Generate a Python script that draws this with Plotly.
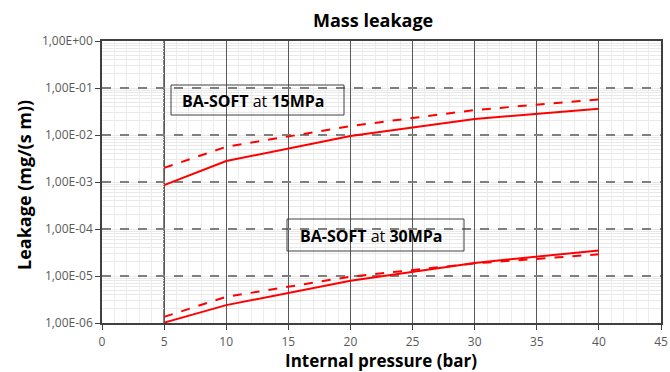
import plotly.graph_objects as go

pressure = [5, 10, 20, 30, 40]
soft15_solid = [8.6e-4, 2.8e-3, 9.5e-3, 2.2e-2, 3.6e-2]
soft15_dash = [2.0e-3, 5.6e-3, 1.55e-2, 3.4e-2, 5.7e-2]
soft30_solid = [1.02e-6, 2.4e-6, 7.9e-6, 1.9e-5, 3.5e-5]
soft30_dash = [1.35e-6, 3.6e-6, 9.7e-6, 1.85e-5, 2.9e-5]

y_tickvals = [1e-6, 1e-5, 1e-4, 1e-3, 1e-2, 1e-1, 1e0]
y_ticktext = ["1,00E-06", "1,00E-05", "1,00E-04", "1,00E-03", "1,00E-02", "1,00E-01", "1,00E+00"]
x_tickvals = [0, 5, 10, 15, 20, 25, 30, 35, 40, 45]

FONT = "Open Sans"
W, H = 670, 372
L, R, T, B = 102, 9, 41, 49
pw, ph = W - L - R, H - T - B

fig = go.Figure()
for ys, dash in [(soft15_solid, "solid"), (soft15_dash, "dash"),
                 (soft30_solid, "solid"), (soft30_dash, "dash")]:
    fig.add_trace(go.Scatter(x=pressure, y=ys, mode="lines", hoverinfo="skip",
                             line=dict(color="#ff0000", width=2, dash=dash)))

fig.update_layout(
    width=W, height=H,
    margin=dict(l=L, r=R, t=T, b=B, autoexpand=False),
    paper_bgcolor="white", plot_bgcolor="white",
    showlegend=False,
    font=dict(family=FONT, color="#595959"),
)
fig.update_xaxes(
    range=[0, 45], tickvals=x_tickvals, ticks="outside", ticklen=5, tickcolor="#404040",
    ticklabelstandoff=2,
    showline=True, linecolor="#404040", linewidth=1.5, mirror=True,
    showgrid=True, gridcolor="#595959", gridwidth=1,
    minor=dict(dtick=1, showgrid=True, gridcolor="#ececec", ticks=""),
    tickfont=dict(size=12, color="#595959"),
    automargin=False, zeroline=False,
)
fig.update_yaxes(
    type="log", range=[-6, 0], tickvals=y_tickvals, ticktext=y_ticktext,
    ticks="outside", ticklen=5, tickcolor="#404040",
    showline=True, linecolor="#404040", linewidth=1.5, mirror=True,
    showgrid=True, gridcolor="#7f7f7f", gridwidth=1.5, griddash="dash",
    minor=dict(dtick="D1", showgrid=True, gridcolor="#e9e9e9", griddash="solid", gridwidth=1, ticks=""),
    tickfont=dict(size=12, color="#595959"),
    automargin=False, zeroline=False,
)
# darker line at x=5
fig.add_shape(type="line", xref="x", yref="paper", x0=5, x1=5, y0=0, y1=1,
              line=dict(color="black", width=1.2), layer="below")

def px(x):
    return (x - L) / pw

def py(y):
    return 1 - (y - T) / ph

# title and axis titles
fig.add_annotation(text="<b>Mass leakage</b>", xref="paper", yref="paper", x=px(373), y=py(20),
                   xanchor="center", yanchor="middle", showarrow=False,
                   font=dict(family=FONT, size=18, color="black"))
fig.add_annotation(text="<b>Internal pressure (bar)</b>", xref="paper", yref="paper", x=px(381), y=py(360),
                   xanchor="center", yanchor="middle", showarrow=False,
                   font=dict(family=FONT, size=17, color="black"))
fig.add_annotation(text="<b>Leakage (mg/(s m))</b>", xref="paper", yref="paper", x=px(24), y=py(185),
                   xanchor="center", yanchor="middle", showarrow=False, textangle=-90,
                   font=dict(family=FONT, size=18, color="black"))

# label boxes: (text, box x0, x1, y0, y1, text x, text y) in pixels
for text, bx0, bx1, by0, by1, tx, ty in [
        ("<b>BA-SOFT</b> at <b>15MPa</b>", 171, 344, 85, 115, 180, 101),
        ("<b>BA-SOFT</b> at <b>30MPa</b>", 287, 464, 219, 251, 298, 236)]:
    fig.add_shape(type="rect", xref="paper", yref="paper",
                  x0=px(bx0), x1=px(bx1), y0=py(by1), y1=py(by0),
                  line=dict(color="#404040", width=1), fillcolor="rgba(0,0,0,0)")
    fig.add_annotation(text=text, xref="paper", yref="paper", x=px(tx), y=py(ty),
                       xanchor="left", yanchor="middle", showarrow=False,
                       font=dict(family=FONT, size=16, color="black"))

fig.write_html("out.html", config={"displayModeBar": False},
               post_script="document.body.style.margin='0';document.body.style.overflow='hidden';")
